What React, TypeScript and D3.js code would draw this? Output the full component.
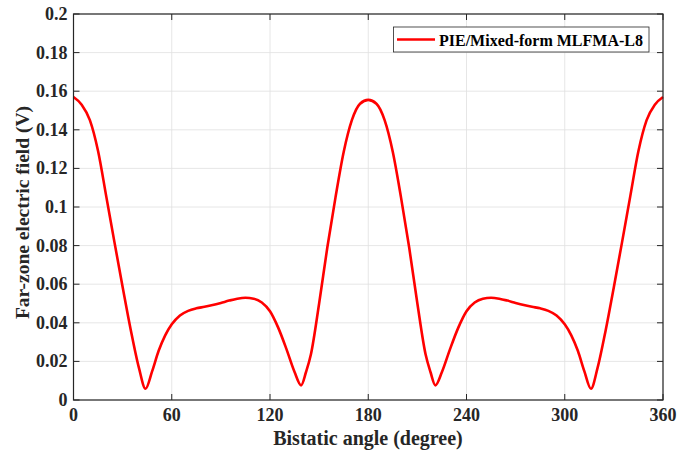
import React from "react";
import * as d3 from "d3";

const angles = [
  0, 5, 10, 15, 20, 25, 30, 35, 40, 44, 48, 52, 56, 60, 65, 70, 75, 80, 85, 90, 95, 100, 105, 110, 115, 120, 125, 130, 135, 139, 142, 145, 150, 155, 160, 165, 170, 175, 180,
  185, 190, 195, 200, 205, 210, 215, 218, 221, 225, 230, 235, 240, 245, 250, 255, 260, 265, 270, 275, 280, 285, 290, 295, 300, 304, 308, 312, 316, 320, 325, 330, 335, 340, 345, 350, 355, 360,
];
const field = [
  0.157, 0.153, 0.145, 0.129, 0.1055, 0.0818, 0.0586, 0.0362, 0.0165, 0.0058, 0.0148, 0.0255, 0.0335, 0.0392, 0.0438, 0.0462, 0.0475, 0.0483, 0.0492, 0.0503, 0.0515, 0.0525, 0.053, 0.0525, 0.0505, 0.046, 0.0375, 0.0265, 0.0145, 0.0076, 0.0145, 0.0237, 0.050, 0.079, 0.105, 0.1285, 0.145, 0.1535, 0.1555,
  0.1535, 0.145, 0.1285, 0.105, 0.079, 0.050, 0.0237, 0.0145, 0.0076, 0.0145, 0.0265, 0.0375, 0.046, 0.0505, 0.0525, 0.053, 0.0525, 0.0515, 0.0503, 0.0492, 0.0483, 0.0475, 0.0462, 0.0438, 0.0392, 0.0335, 0.0255, 0.0148, 0.0058, 0.0165, 0.0362, 0.0586, 0.0818, 0.1055, 0.129, 0.145, 0.153, 0.157,
];
const xTicks = [0, 60, 120, 180, 240, 300, 360];
const yTicks = [0, 0.02, 0.04, 0.06, 0.08, 0.1, 0.12, 0.14, 0.16, 0.18, 0.2];
const seriesName = "PIE/Mixed-form MLFMA-L8";
const xTitle = "Bistatic angle (degree)";
const yTitle = "Far-zone electric field (V)";

export default function App() {
  const W = 691, H = 453;
  const L = 73.5, R = 663, T = 14, B = 400;
  const x = d3.scaleLinear().domain([0, 360]).range([L, R]);
  const y = d3.scaleLinear().domain([0, 0.2]).range([B, T]);
  const pts = angles.map((a, i) => [a, field[i]] as [number, number]);
  const line = d3.line<[number, number]>().x(d => x(d[0])).y(d => y(d[1])).curve(d3.curveMonotoneX);
  const font = "Liberation Serif";
  const axisColor = "#262626";
  const tk = 6;
  return (
    <svg width={W} height={H} style={{ position: "absolute", left: 0, top: 0, background: "#fff" }}>
      <rect x={0} y={0} width={W} height={H} fill="#fff" />
      {xTicks.map(t => (
        <line key={"gx" + t} x1={x(t)} x2={x(t)} y1={T} y2={B} stroke="#dfdfdf" strokeWidth={0.8} />
      ))}
      {yTicks.map(t => (
        <line key={"gy" + t} x1={L} x2={R} y1={y(t)} y2={y(t)} stroke="#dfdfdf" strokeWidth={0.8} />
      ))}
      <path d={line(pts) || ""} fill="none" stroke="#ff0000" strokeWidth={2.6} strokeLinejoin="round" />
      <rect x={L} y={T} width={R - L} height={B - T} fill="none" stroke={axisColor} strokeWidth={1.2} />
      {xTicks.map(t => (
        <g key={"tx" + t}>
          <line x1={x(t)} x2={x(t)} y1={B} y2={B - tk} stroke={axisColor} strokeWidth={1} />
          <line x1={x(t)} x2={x(t)} y1={T} y2={T + tk} stroke={axisColor} strokeWidth={1} />
          <text x={x(t)} y={B + 21} textAnchor="middle" fontFamily={font} fontWeight="bold" fontSize={18} fill={axisColor}>{t}</text>
        </g>
      ))}
      {yTicks.map(t => (
        <g key={"ty" + t}>
          <line x1={L} x2={L + tk} y1={y(t)} y2={y(t)} stroke={axisColor} strokeWidth={1} />
          <line x1={R} x2={R - tk} y1={y(t)} y2={y(t)} stroke={axisColor} strokeWidth={1} />
          <text x={L - 6} y={y(t) + 6} textAnchor="end" fontFamily={font} fontWeight="bold" fontSize={18} fill={axisColor}>{String(t)}</text>
        </g>
      ))}
      <text x={368} y={445} textAnchor="middle" fontFamily={font} fontWeight="bold" fontSize={20} fill={axisColor}>{xTitle}</text>
      <text transform={`translate(29,212.5) rotate(-90)`} textAnchor="middle" fontFamily={font} fontWeight="bold" fontSize={19.5} fill={axisColor}>{yTitle}</text>
      <g>
        <rect x={393.5} y={27} width={255.5} height={25} fill="#fff" stroke={axisColor} strokeWidth={0.8} />
        <line x1={397} x2={435} y1={39.5} y2={39.5} stroke="#ff0000" strokeWidth={2.6} />
        <text x={439} y={45.5} fontFamily={font} fontWeight="bold" fontSize={16} fill="#000">{seriesName}</text>
      </g>
    </svg>
  );
}
